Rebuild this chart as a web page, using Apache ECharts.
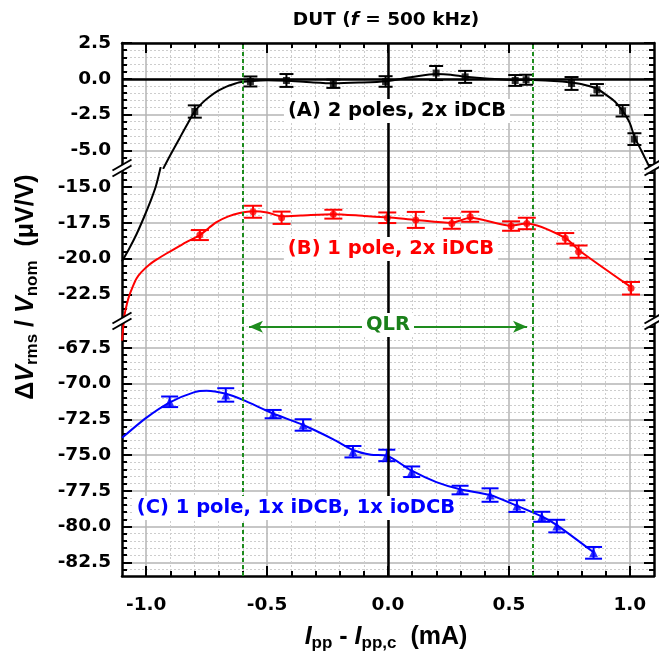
<!DOCTYPE html>
<html><head><meta charset="utf-8">
<script src="https://cdn.jsdelivr.net/npm/echarts@6/dist/echarts.min.js"></script>
<style>html,body{margin:0;padding:0;background:#fff}#c{width:659px;height:660px}</style>
</head><body><div id="c"></div>
<script>
// ---------------- data ----------------
const xTicks = [-1.0, -0.5, 0.0, 0.5, 1.0];
const yTicksTop = [2.5, 0.0, -2.5, -5.0];
const yTicksMid = [-15.0, -17.5, -20.0, -22.5];
const yTicksBot = [-67.5, -70.0, -72.5, -75.0, -77.5, -80.0, -82.5];

// (A) 2 poles, 2x iDCB
const xA = [-0.799, -0.569, -0.42, -0.226, -0.01, 0.199, 0.319, 0.526, 0.571, 0.759, 0.864, 0.970, 1.019];
const yA = [-2.29, -0.19, -0.12, -0.35, -0.19, 0.40, 0.13, -0.12, -0.07, -0.33, -0.77, -2.24, -4.22];
const eA = [0.43, 0.35, 0.45, 0.29, 0.37, 0.49, 0.42, 0.38, 0.35, 0.45, 0.40, 0.40, 0.41];
// (B) 1 pole, 2x iDCB
const xB = [-0.778, -0.558, -0.44, -0.226, -0.003, 0.115, 0.264, 0.34, 0.509, 0.574, 0.733, 0.788, 1.005];
const yB = [-18.36, -16.73, -17.15, -16.9, -17.15, -17.3, -17.55, -17.08, -17.73, -17.55, -18.59, -19.52, -22.08];
const eB = [0.35, 0.42, 0.43, 0.31, 0.37, 0.56, 0.37, 0.35, 0.33, 0.40, 0.37, 0.43, 0.44];
// (C) 1 pole, 1x iDCB, 1x ioDCB
const xC = [-0.903, -0.671, -0.475, -0.351, -0.145, -0.005, 0.098, 0.298, 0.422, 0.533, 0.636, 0.698, 0.850];
const yC = [-71.28, -70.8, -72.14, -72.9, -74.77, -75.03, -76.17, -77.45, -77.8, -78.57, -79.32, -79.97, -81.84];
const eC = [0.37, 0.47, 0.29, 0.40, 0.40, 0.40, 0.37, 0.30, 0.47, 0.41, 0.35, 0.44, 0.41];

// fit curves
const fitATop = [[-0.93,-6.3],[-0.90,-5.33],[-0.86,-4.1],[-0.83,-3.18],[-0.80,-2.3],[-0.77,-1.72],[-0.737,-1.24],[-0.70,-0.82],[-0.668,-0.55],[-0.64,-0.38],[-0.613,-0.25],[-0.57,-0.17],[-0.50,-0.1],[-0.42,-0.14],[-0.32,-0.25],[-0.226,-0.32],[-0.12,-0.27],[-0.01,-0.17],[0.10,0.12],[0.20,0.33],[0.26,0.28],[0.32,0.14],[0.42,0.0],[0.526,-0.09],[0.571,-0.07],[0.65,-0.12],[0.72,-0.2],[0.76,-0.28],[0.81,-0.42],[0.864,-0.7],[0.90,-1.1],[0.94,-1.62],[0.97,-2.25],[1.0,-3.1],[1.02,-4.1],[1.05,-5.1],[1.085,-6.3]];
const fitAMid = [[-1.1,-20.2],[-1.07,-19.3],[-1.04,-18.3],[-1.01,-17.15],[-0.98,-15.9],[-0.96,-14.95],[-0.94,-13.6]];
const fitBMid = [[-1.095,-24.5],[-1.088,-23.8],[-1.08,-23.2],[-1.07,-22.6],[-1.055,-21.95],[-1.04,-21.4],[-1.02,-20.95],[-0.985,-20.4],[-0.95,-20.0],[-0.916,-19.65],[-0.87,-19.2],[-0.834,-18.85],[-0.778,-18.36],[-0.74,-17.85],[-0.709,-17.45],[-0.66,-17.05],[-0.613,-16.82],[-0.558,-16.7],[-0.50,-16.78],[-0.44,-17.05],[-0.36,-17.0],[-0.226,-16.9],[-0.1,-17.02],[-0.003,-17.12],[0.115,-17.3],[0.264,-17.5],[0.34,-17.15],[0.509,-17.7],[0.574,-17.55],[0.733,-18.55],[0.788,-19.4],[1.005,-22.0]];
const fitBBot = [[-1.092,-65.5],[-1.1,-67.0]];
const fitC = [[-1.1,-73.8],[-1.0,-72.4],[-0.9,-71.3],[-0.8,-70.6],[-0.75,-70.5],[-0.67,-70.72],[-0.6,-71.15],[-0.475,-72.1],[-0.351,-72.9],[-0.226,-73.9],[-0.145,-74.65],[-0.07,-74.98],[-0.005,-75.05],[0.098,-76.1],[0.2,-76.9],[0.298,-77.4],[0.422,-77.8],[0.533,-78.55],[0.636,-79.3],[0.698,-79.9],[0.850,-81.8]];

// ---------------- layout / style ----------------
const FT = 'DejaVu Sans';
const FA = 'Liberation Sans';
const GMAJ = '#b4b4b4', GMIN = '#cdcdcd';
const GREEN = '#1e8c1e';
const segs = [
  {top: 43, height: 125, min: -6.24, max: 2.5, major: yTicksTop},
  {top: 168, height: 153, min: -24.37, max: -13.67, major: yTicksMid},
  {top: 321, height: 255, min: -83.46, max: -65.63, major: yTicksBot}
];
function minorVals(min, max, major) {
  const out = [];
  for (let k = Math.ceil(min * 2); k <= Math.floor(max * 2); k++) {
    const v = k / 2;
    if (v <= min + 1e-9 || v >= max - 1e-9) continue;
    if (major.some(m => Math.abs(m - v) < 1e-9)) continue;
    out.push(v);
  }
  return out;
}
const xMinor = [];
for (let k = -10; k <= 10; k++) if (k % 5 !== 0) xMinor.push(k / 10);

const grids = segs.map(s => ({left: 122, right: 5, top: s.top, height: s.height, containLabel: false, outerBoundsMode: 'none'}));
const xAxes = [], yAxes = [];
segs.forEach((s, i) => {
  const pos = i === 0 ? 'top' : 'bottom';
  const edge = i !== 1;
  xAxes.push({type: 'value', gridIndex: i, min: -1.1, max: 1.1, position: pos,
    axisLine: {show: edge, onZero: false, lineStyle: {color: '#000', width: 2.5}},
    axisTick: {show: edge, inside: true, length: 10, customValues: xTicks, lineStyle: {color: '#000', width: 2}},
    axisLabel: {show: i === 2, customValues: xTicks, formatter: v => v.toFixed(1), margin: 20, color: '#000', fontFamily: FT, fontWeight: 'bold', fontSize: 18.5},
    splitLine: {show: true, lineStyle: {color: GMAJ, width: 1.5}}});
  xAxes.push({type: 'value', gridIndex: i, min: -1.1, max: 1.1, position: pos,
    axisLine: {show: false, onZero: false},
    axisTick: {show: edge, inside: true, length: 5, customValues: xMinor, lineStyle: {color: '#000', width: 2}},
    axisLabel: {show: false, customValues: xMinor},
    splitLine: {show: true, lineStyle: {color: GMIN, width: 1, type: [2, 2]}}});
  const mn = minorVals(s.min, s.max, s.major);
  yAxes.push({type: 'value', gridIndex: i, min: s.min, max: s.max, position: 'left',
    axisLine: {show: true, onZero: false, lineStyle: {color: '#000', width: 2.5}},
    axisTick: {show: true, inside: true, length: 10, customValues: s.major, lineStyle: {color: '#000', width: 2}},
    axisLabel: {show: true, customValues: s.major, formatter: v => v.toFixed(1), margin: 11, color: '#000', fontFamily: FT, fontWeight: 'bold', fontSize: 18.5, showMinLabel: true, showMaxLabel: true},
    splitLine: {show: true, lineStyle: {color: GMAJ, width: 1.5}}});
  yAxes.push({type: 'value', gridIndex: i, min: s.min, max: s.max, position: 'left',
    axisLine: {show: false, onZero: false},
    axisTick: {show: true, inside: true, length: 5, customValues: mn, lineStyle: {color: '#000', width: 2}},
    axisLabel: {show: false, customValues: mn},
    splitLine: {show: true, lineStyle: {color: GMIN, width: 1, type: [2, 2]}}});
  yAxes.push({type: 'value', gridIndex: i, min: s.min, max: s.max, position: 'right',
    axisLine: {show: true, onZero: false, lineStyle: {color: '#000', width: 2.5}},
    axisTick: {show: true, inside: true, length: 10, customValues: s.major, lineStyle: {color: '#000', width: 2}},
    axisLabel: {show: false, customValues: s.major},
    splitLine: {show: false}});
  yAxes.push({type: 'value', gridIndex: i, min: s.min, max: s.max, position: 'right',
    axisLine: {show: false, onZero: false},
    axisTick: {show: true, inside: true, length: 5, customValues: mn, lineStyle: {color: '#000', width: 2}},
    axisLabel: {show: false, customValues: mn},
    splitLine: {show: false}});
});

function refLines(i) {
  const d = [
    {xAxis: 0, lineStyle: {color: '#000', width: 2.5, type: 'solid'}},
    {xAxis: -0.6, lineStyle: {color: GREEN, width: 2, type: [4, 3]}},
    {xAxis: 0.6, lineStyle: {color: GREEN, width: 2, type: [4, 3]}}
  ];
  if (i === 0) d.unshift({yAxis: 0, lineStyle: {color: '#000', width: 2.5, type: 'solid'}});
  return {silent: true, symbol: ['none', 'none'], label: {show: false}, animation: false, data: d};
}
function fitLine(data, i, color, withRef) {
  const o = {type: 'line', xAxisIndex: 2 * i, yAxisIndex: 4 * i, data: data, smooth: 0.25, symbol: 'none',
    lineStyle: {color: color, width: 2}, clip: true, silent: true, z: 2};
  if (withRef) o.markLine = refLines(i);
  return o;
}
function errBars(xs, ys, es, i, color, w) {
  return {type: 'custom', xAxisIndex: 2 * i, yAxisIndex: 4 * i, z: 3, silent: true,
    data: xs.map((x, k) => [x, ys[k], es[k]]),
    encode: {x: 0, y: 1},
    renderItem: function (params, api) {
      const x = api.value(0), y = api.value(1), e = api.value(2);
      const p1 = api.coord([x, y + e]), p2 = api.coord([x, y - e]);
      const st = {stroke: color, lineWidth: 2};
      return {type: 'group', children: [
        {type: 'line', shape: {x1: p1[0], y1: p1[1], x2: p2[0], y2: p2[1]}, style: st},
        {type: 'line', shape: {x1: p1[0] - w, y1: p1[1], x2: p1[0] + w, y2: p1[1]}, style: st},
        {type: 'line', shape: {x1: p2[0] - w, y1: p2[1], x2: p2[0] + w, y2: p2[1]}, style: st}
      ]};
    }};
}
function markers(xs, ys, i, color, sym, size) {
  return {type: 'scatter', xAxisIndex: 2 * i, yAxisIndex: 4 * i, z: 4, silent: true,
    data: xs.map((x, k) => [x, ys[k]]), symbol: sym, symbolSize: size, itemStyle: {color: color}};
}

const series = [
  fitLine(fitATop, 0, '#000', true),
  errBars(xA, yA, eA, 0, '#000', 7),
  markers(xA, yA, 0, '#000', 'rect', 7),
  fitLine(fitAMid, 1, '#000', true),
  fitLine(fitBMid, 1, '#ff0000', false),
  errBars(xB, yB, eB, 1, '#ff0000', 9),
  markers(xB, yB, 1, '#ff0000', 'circle', 7),
  fitLine(fitBBot, 2, '#ff0000', true),
  fitLine(fitC, 2, '#0000ff', false),
  errBars(xC, yC, eC, 2, '#0000ff', 8.5),
  markers(xC, yC, 2, '#0000ff', 'triangle', 9),
  {type: 'line', xAxisIndex: 4, yAxisIndex: 8, data: [], silent: true,
    markLine: {silent: true, symbol: ['arrow', 'arrow'], symbolSize: [9, 14], label: {show: false}, animation: false,
      lineStyle: {color: GREEN, width: 2, type: 'solid'},
      data: [[{coord: [-0.575, -66.03]}, {coord: [0.575, -66.03]}]]}}
];

// ---------------- annotations ----------------
function label(text, x, y, color) {
  return {type: 'text', z: 100, x: x, y: y, silent: true,
    style: {text: text, fill: color, font: 'bold 19.5px "' + FT + '"', textAlign: 'center', textVerticalAlign: 'middle',
      backgroundColor: '#fff', padding: [2, 4]}};
}
function breakMark(cx, cy) {
  const a = Math.PI / 6, L = 11, Lw = 7, g = 3;
  const c = Math.cos(a), s = Math.sin(a);
  const st = {stroke: '#000', lineWidth: 2};
  return {type: 'group', z: 100, silent: true, children: [
    {type: 'polygon', z: 100, shape: {points: [[cx - Lw * c, cy - g + Lw * s], [cx + Lw * c, cy - g - Lw * s], [cx + Lw * c, cy + g - Lw * s], [cx - Lw * c, cy + g + Lw * s]]}, style: {fill: '#fff'}},
    {type: 'line', z: 101, shape: {x1: cx - L * c, y1: cy - g + L * s, x2: cx + L * c, y2: cy - g - L * s}, style: st},
    {type: 'line', z: 101, shape: {x1: cx - L * c, y1: cy + g + L * s, x2: cx + L * c, y2: cy + g - L * s}, style: st}
  ]};
}
const graphics = [
  {type: 'text', z: 100, x: 386, y: 20, silent: true, style: {
    text: '{n|DUT (}{i|f}{n| = 500 kHz)}', textAlign: 'center', textVerticalAlign: 'middle',
    rich: {n: {fontFamily: FT, fontWeight: 'bold', fontSize: 18.5, fill: '#000'},
           i: {fontFamily: FT, fontWeight: 'bold', fontStyle: 'italic', fontSize: 18.5, fill: '#000'}}}},
  {type: 'text', z: 100, x: 26, y: 287, rotation: Math.PI / 2, silent: true, style: {
    text: '{n|Δ}{v|V}{s|rms}{n| / }{v|V}{s|nom}{n|  (μV/V)}', textAlign: 'center', textVerticalAlign: 'middle',
    rich: {n: {fontFamily: FA, fontWeight: 'bold', fontSize: 25, lineHeight: 30, fill: '#000'},
           v: {fontFamily: FA, fontWeight: 'bold', fontStyle: 'italic', fontSize: 25, lineHeight: 30, fill: '#000'},
           s: {fontFamily: FA, fontWeight: 'bold', fontSize: 17, lineHeight: 17, verticalAlign: 'bottom', fill: '#000'}}}},
  {type: 'text', z: 100, x: 386, y: 637, silent: true, style: {
    text: '{i|I}{s|pp}{n| - }{i|I}{s|pp,c}{n|  (mA)}', textAlign: 'center', textVerticalAlign: 'middle',
    rich: {n: {fontFamily: FA, fontWeight: 'bold', fontSize: 25, lineHeight: 30, fill: '#000'},
           i: {fontFamily: FA, fontWeight: 'bold', fontStyle: 'italic', fontSize: 25, lineHeight: 30, fill: '#000'},
           s: {fontFamily: FA, fontWeight: 'bold', fontSize: 17, lineHeight: 17, verticalAlign: 'bottom', fill: '#000'}}}},
  label('(A) 2 poles, 2x iDCB', 397, 111, '#000'),
  label('(B) 1 pole, 2x iDCB', 391, 249, '#ff0000'),
  label('(C) 1 pole, 1x iDCB, 1x ioDCB', 296, 508, '#0000ff'),
  label('QLR', 388, 325, '#1a801a'),
  breakMark(122, 168), breakMark(654, 167), breakMark(122, 321), breakMark(654, 321)
];

const chart = echarts.init(document.getElementById('c'), null, {renderer: 'canvas'});
chart.setOption({
  animation: false,
  backgroundColor: '#fff',
  grid: grids,
  xAxis: xAxes,
  yAxis: yAxes,
  series: series,
  graphic: graphics
});
</script>
</body></html>
